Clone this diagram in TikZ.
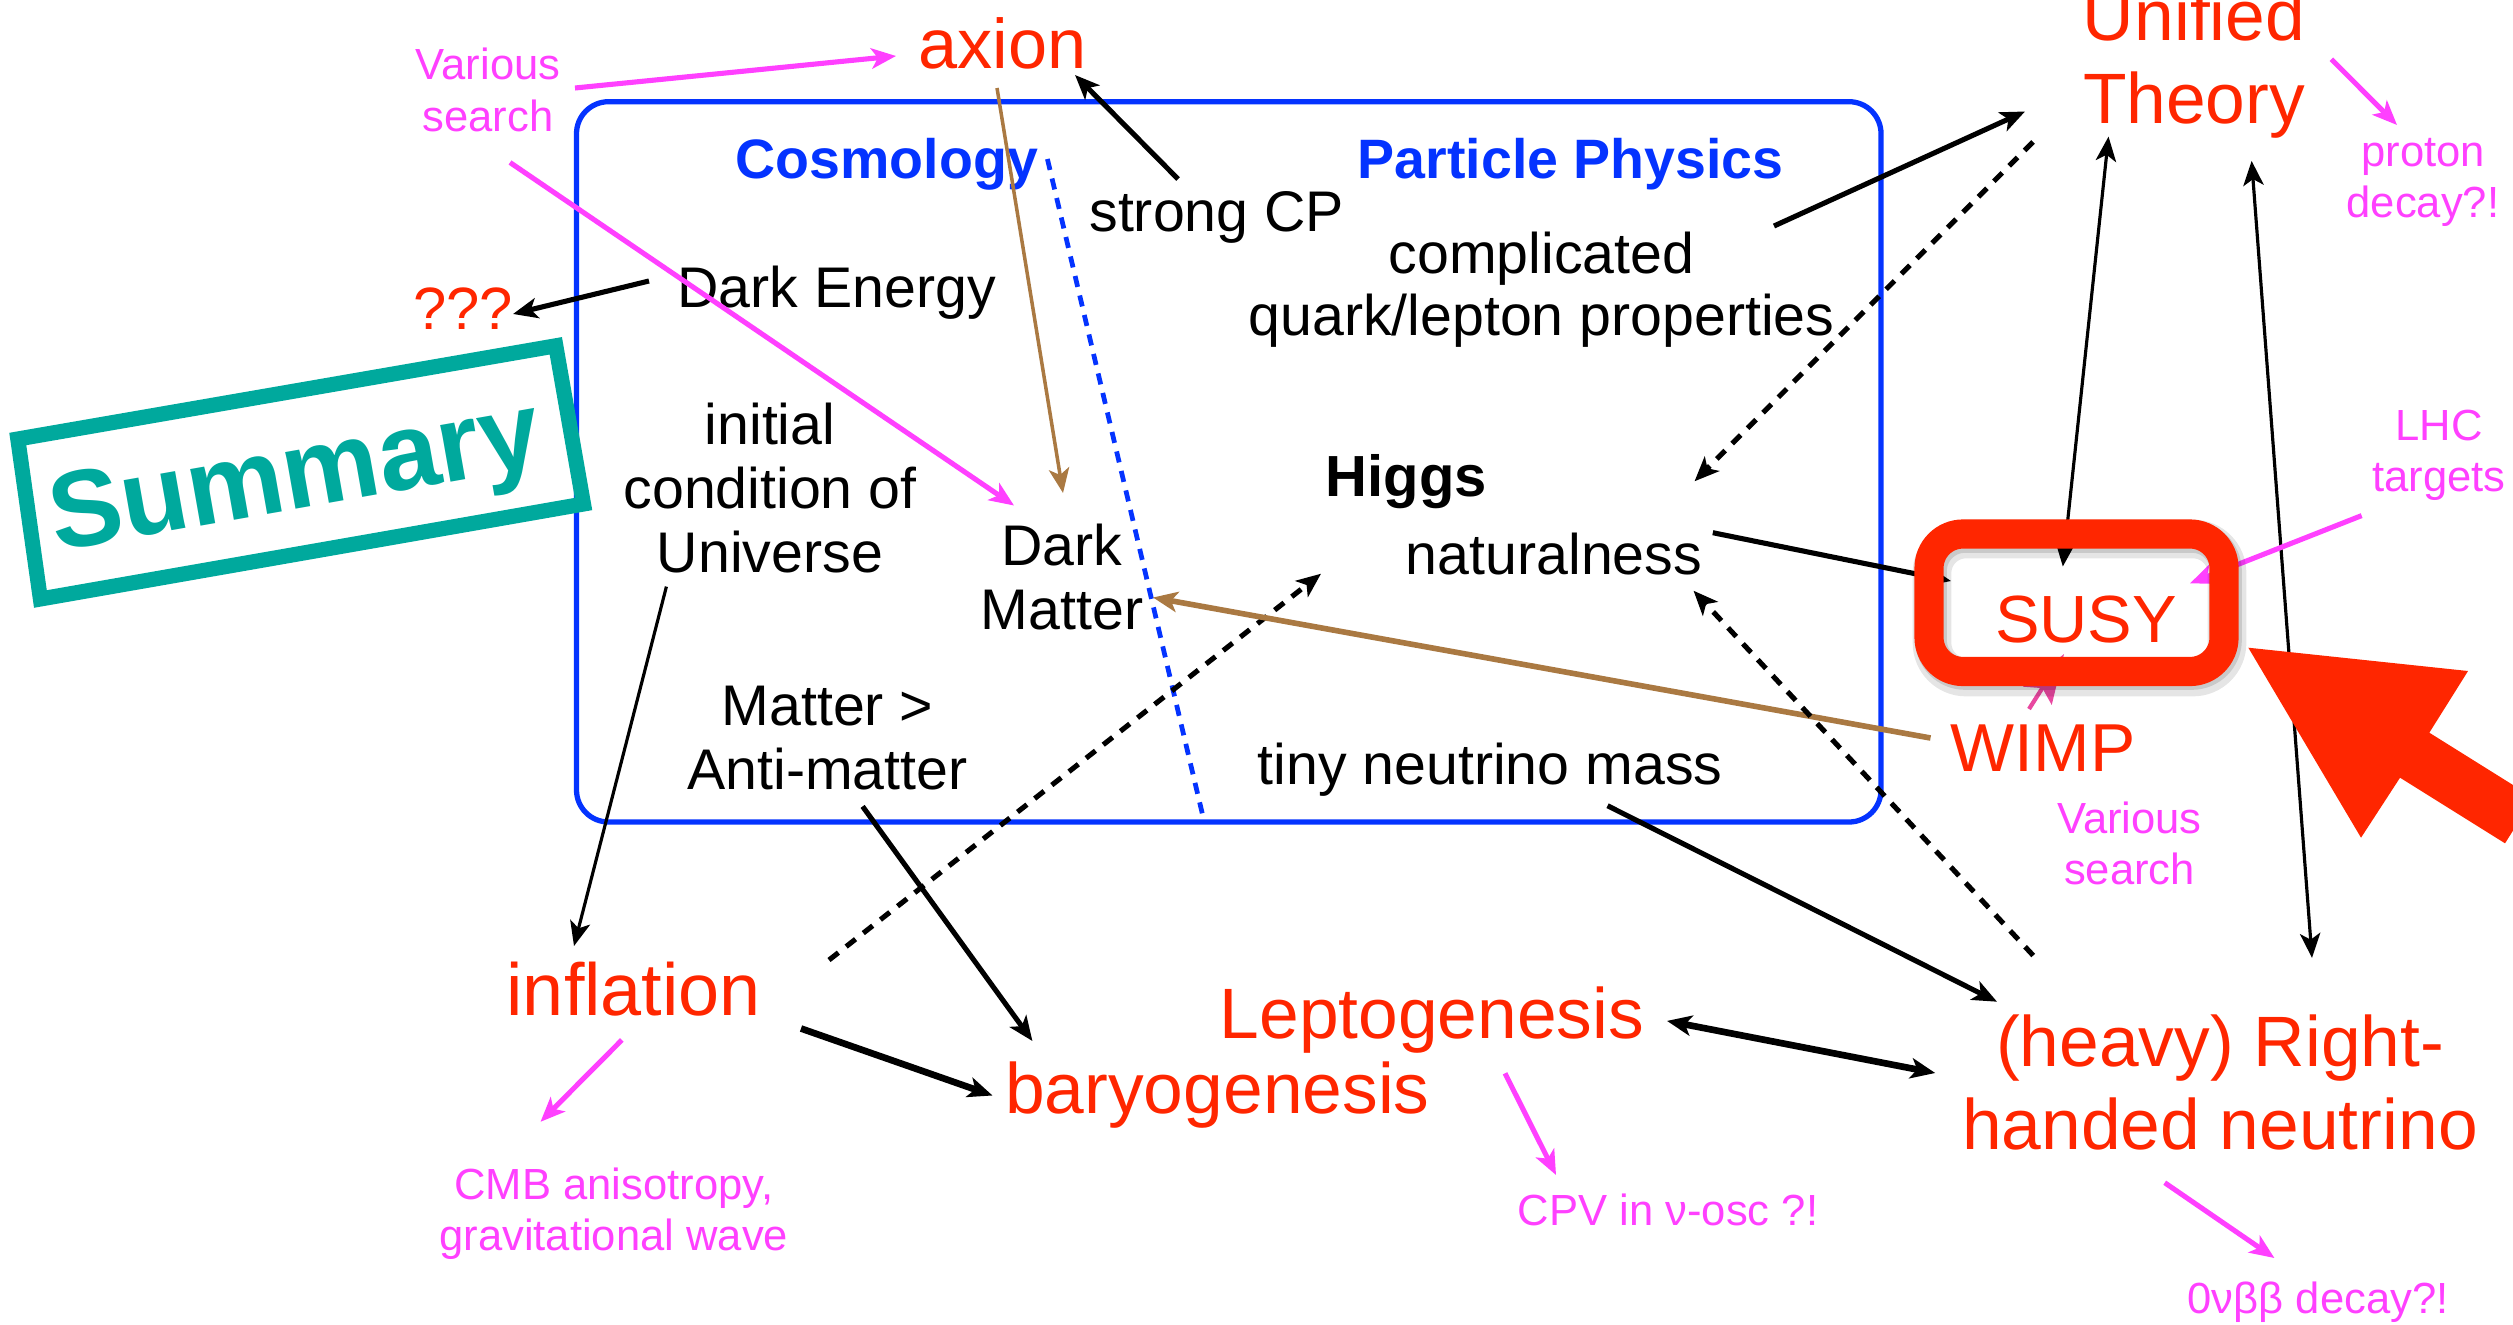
\documentclass[tikz,border=0pt]{standalone}
\usepackage{fontspec}
\setmainfont{Liberation Sans}
\usetikzlibrary{arrows.meta}
\definecolor{kred}{RGB}{255,38,0}
\definecolor{kmag}{RGB}{255,64,255}
\definecolor{kblue}{RGB}{4,51,255}
\definecolor{kbrown}{RGB}{170,121,66}
\definecolor{kteal}{RGB}{0,169,157}
\definecolor{kpink}{RGB}{232,72,160}
\begin{document}
\begin{tikzpicture}[x=0.1mm,y=-0.1mm,
  blk/.style={font=\fontsize{16.3}{18.2}\selectfont, align=center, anchor=base, inner sep=0pt},
  redt/.style={text=kred, font=\fontsize{20.3}{23.7}\selectfont, align=center, anchor=base, inner sep=0pt},
  mag/.style={text=kmag, font=\fontsize{12.4}{14.4}\selectfont, align=center, anchor=base, inner sep=0pt},
  bluet/.style={text=kblue, font=\bfseries\fontsize{15.8}{18}\selectfont, anchor=base, inner sep=0pt},
  tipa/.style={-{Stealth[length=7pt,width=5.8pt,inset=1.8pt]}},
  tipb/.style={{Stealth[length=7pt,width=5.8pt,inset=1.8pt]}-{Stealth[length=7pt,width=5.8pt,inset=1.8pt]}},
  thinl/.style={black, line width=0.9pt},
  medl/.style={black, line width=1.45pt},
  thickl/.style={black, line width=1.9pt},
  dashl/.style={black, line width=1.45pt, dash pattern=on 3.4pt off 2.8pt},
  magl/.style={kmag, line width=1.45pt},
]
\useasboundingbox (0,0) rectangle (2513,1324);

% ---------- Cosmology / Particle Physics frame
\draw[kblue, line width=1.5pt, rounded corners=3.2mm] (576.5,101.7) rectangle (1881,822);
\draw[kblue, line width=1.35pt, dash pattern=on 3.2pt off 2.5pt] (1047.4,159) -- (1204.2,821.7);

% ---------- Summary stamp
\draw[kteal, line width=4.3pt] (17.8,439) -- (555.8,345.8) -- (583.5,504) -- (40.4,599) -- cycle;
\node[rotate=10, text=kteal, font=\bfseries\fontsize{31}{34}\selectfont, inner sep=0pt] (summ) at (296,482) {Summary};

% ---------- texts (multi-line nodes are placed at the baseline of their last line)
\node[redt, font=\fontsize{20}{23.7}\selectfont] (axion) at (1002.5,68.4) {axion};
\node[mag, font=\fontsize{12.4}{15}\selectfont] (vs1) at (488,131.8) {Various\\search};
\node[redt, font=\fontsize{17}{20}\selectfont] (qqq) at (463,329) {???};
\node[bluet] (cosmo) at (886.7,178.5) {Cosmology};
\node[bluet] (pp) at (1570.8,178.3) {Particle Physics};
\node[blk] (scp) at (1216.7,232) {strong CP};
\node[blk, font=\fontsize{16.3}{17.5}\selectfont] (cql) at (1541.5,335) {complicated\\quark/lepton properties};
\node[blk] (de) at (836.7,307.5) {Dark Energy};
\node[blk] (icu) at (770,572) {initial\\condition of\\Universe};
\node[blk, font=\bfseries\fontsize{16.5}{18}\selectfont] (higgs) at (1406.4,496) {Higgs};
\node[blk] (dm) at (1062,629.3) {Dark\\Matter};
\node[blk] (nat) at (1554,574.5) {naturalness};
\node[blk] (mam) at (827.5,789.3) {Matter >\\Anti-matter};
\node[blk] (tnm) at (1490,784) {tiny neutrino mass};
\node[redt] (ut) at (2194,123.9) {Unified\\Theory};
\node[mag] (pd) at (2423,217.2) {proton\\decay?!};
\node[mag] (lhc) at (2439,491) {LHC\\targets};
\node[redt, font=\fontsize{19.3}{23}\selectfont] (wimp) at (2043,771) {WIMP};
\node[mag] (vs2) at (2129.5,884) {Various\\search};
\node[redt, font=\fontsize{21}{24}\selectfont] (infl) at (633.8,1015.6) {inflation};
\node[redt] (baryo) at (1217.4,1113) {baryogenesis};
\node[redt] (lepto) at (1432,1038) {Leptogenesis};
\node[redt] (rhn) at (2220,1149.5) {(heavy) Right-\\handed neutrino};
\node[mag] (cmb) at (613.8,1250.1) {CMB anisotropy,\\gravitational wave};
\node[mag] (cpv) at (1668,1225.5) {CPV in ν-osc ?!};
\node[mag] (bb) at (2318,1313.4) {0νββ decay?!};

% ---------- connector end points
\coordinate (vs1-a) at (575,88);      \coordinate (axion-in) at (896,56);
\coordinate (vs1-b) at (510,162.5);   \coordinate (dm-in1) at (1014,505.5);
\coordinate (axion-out) at (997,88);  \coordinate (dm-in2) at (1063,493);
\coordinate (scp-out) at (1178,179);  \coordinate (axion-in2) at (1075,75);
\coordinate (de-out) at (649,281);    \coordinate (qqq-in) at (513,314);
\coordinate (icu-out) at (666.4,586.6); \coordinate (infl-in) at (574,946);
\coordinate (mam-out) at (862.6,806.4); \coordinate (baryo-in1) at (1032.4,1041);
\coordinate (infl-out) at (801,1028.5); \coordinate (baryo-in2) at (992.5,1095.5);
\coordinate (infl-out2) at (829,960); \coordinate (nat-in1) at (1321,573.7);
\coordinate (wimp-out) at (1930.5,738); \coordinate (dm-in3) at (1153,597.5);
\coordinate (cql-out) at (1774,226);  \coordinate (ut-in) at (2025,111.5);
\coordinate (ut-out) at (2033,142);   \coordinate (higgs-in) at (1694.5,481.3);
\coordinate (nat-out) at (1712.8,532.7); \coordinate (susy-in1) at (1951,581);
\coordinate (ut-a) at (2108.5,136.6); \coordinate (susy-in2) at (2062.8,566.5);
\coordinate (ut-b) at (2251.6,160.9); \coordinate (rhn-in1) at (2312,957.9);
\coordinate (rhn-out) at (2033.2,955.5); \coordinate (nat-in2) at (1693.5,590.7);
\coordinate (tnm-out) at (1607.5,805.7); \coordinate (rhn-in2) at (1997,1001.7);
\coordinate (lepto-e) at (1667,1020.9); \coordinate (rhn-e) at (1935.2,1073);
\coordinate (lhc-out) at (2361.6,515.6); \coordinate (susy-in3) at (2190,583.3);
\coordinate (ut-c) at (2331.3,59.2);  \coordinate (pd-in) at (2397,125);
\coordinate (infl-c) at (621.8,1040); \coordinate (cmb-in) at (540.5,1121.8);
\coordinate (lepto-c) at (1505,1073.3); \coordinate (cpv-in) at (1556,1175);
\coordinate (rhn-c) at (2164.7,1182.7); \coordinate (bb-in) at (2274.4,1258);
\coordinate (wimp-c) at (2029,709);   \coordinate (susy-in4) at (2064,654);

% ---------- connectors
\draw[magl, tipa] (vs1-a) -- (axion-in);
\draw[magl, tipa] (vs1-b) -- (dm-in1);
\draw[kbrown, line width=1.0pt, tipa] (axion-out) -- (dm-in2);
\draw[medl, tipa] (scp-out) -- (axion-in2);
\draw[medl, tipa] (de-out) -- (qqq-in);
\draw[thinl, tipa] (icu-out) -- (infl-in);
\draw[medl, tipa] (mam-out) -- (baryo-in1);
\draw[thickl, tipa] (infl-out) -- (baryo-in2);
\draw[dashl, tipa] (infl-out2) -- (nat-in1);
\draw[kbrown, line width=1.6pt, tipa] (wimp-out) -- (dm-in3);
\draw[medl, tipa] (cql-out) -- (ut-in);
\draw[dashl, tipa] (ut-out) -- (higgs-in);
\draw[medl, tipa] (nat-out) -- (susy-in1);
\draw[thinl, tipb] (ut-a) -- (susy-in2);
\draw[thinl, tipb] (ut-b) -- (rhn-in1);
\draw[dashl, tipa] (rhn-out) -- (nat-in2);
\draw[medl, tipa] (tnm-out) -- (rhn-in2);
\draw[thickl, tipb] (lepto-e) -- (rhn-e);
\draw[magl, tipa] (lhc-out) -- (susy-in3);
\draw[magl, tipa] (ut-c) -- (pd-in);
\draw[magl, tipa] (infl-c) -- (cmb-in);
\draw[magl, tipa] (lepto-c) -- (cpv-in);
\draw[magl, tipa] (rhn-c) -- (bb-in);
\draw[kpink, line width=1.2pt, -{Stealth[length=14pt,width=9.5pt,inset=2.5pt]}] (wimp-c) -- (susy-in4);

% ---------- SUSY highlight box
\draw[black, opacity=0.10, line width=11pt, rounded corners=3.4mm] (1932,539) rectangle (2227,677);
\draw[black, opacity=0.12, line width=9pt, rounded corners=3.4mm] (1931,537) rectangle (2226,674);
\draw[kred, line width=8.3pt, rounded corners=3.4mm] (1929,534) rectangle (2224,671.5);
\node[redt, font=\fontsize{19}{23}\selectfont] (susy) at (2086,642.7) {SUSY};

% ---------- big red pointer
\fill[kred] (2248.3,647.7) -- (2468,671) -- (2429.3,732.7) -- (2513,785) -- (2513,830.6)
  -- (2505,843.3) -- (2400,777.7) -- (2361,837.7) -- cycle;
\end{tikzpicture}
\end{document}
